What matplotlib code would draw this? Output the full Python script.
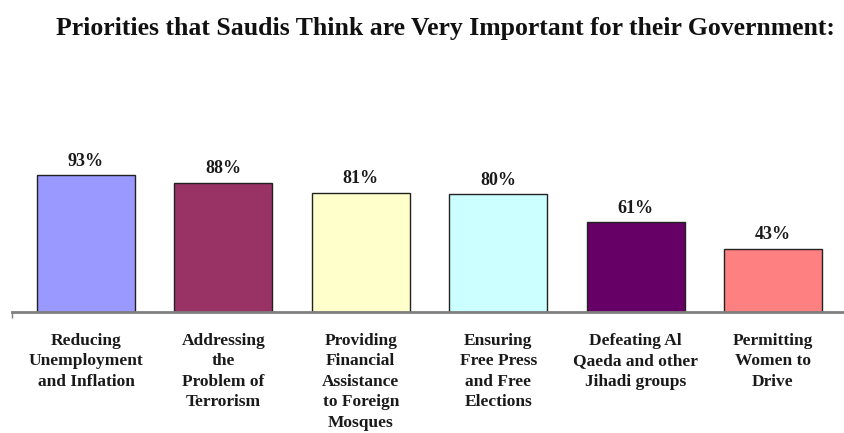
import matplotlib.pyplot as plt

categories = [
    "Reducing\nUnemployment\nand Inflation",
    "Addressing\nthe\nProblem of\nTerrorism",
    "Providing\nFinancial\nAssistance\nto Foreign\nMosques",
    "Ensuring\nFree Press\nand Free\nElections",
    "Defeating Al\nQaeda and other\nJihadi groups",
    "Permitting\nWomen to\nDrive",
]
values = [93, 88, 81, 80, 61, 43]
colors = ["#9999FF", "#993366", "#FFFFCC", "#CCFFFF", "#660066", "#FF8080"]

plt.rcParams['font.family'] = ['Liberation Serif', 'DejaVu Serif']

fig = plt.figure(figsize=(8.44, 4.33), dpi=100)
ax = fig.add_axes([12 / 844, (433 - 312) / 433, 832 / 844, 147 / 433])

x = range(len(values))
ax.bar(x, values, width=0.713, color=colors, edgecolor="#222222", linewidth=1.0, zorder=2)

for i, v in enumerate(values):
    ax.annotate(f"{v}%", (i, v), xytext=(0, 4), textcoords="offset points",
                ha="center", va="bottom", fontsize=13, fontweight="bold",
                color="#1a1a1a", annotation_clip=False)

for i, lab in enumerate(categories):
    ax.text(i, -14, lab, ha="center", va="top", fontsize=12.5, fontweight="bold",
            color="#1a1a1a", linespacing=1.38, transform=ax.transData, clip_on=False)

ax.set_xlim(-0.5386, 5.517)
ax.set_ylim(0, 100)
for s in ["top", "right", "left"]:
    ax.spines[s].set_visible(False)
ax.spines["bottom"].set_color("#808080")
ax.spines["bottom"].set_linewidth(2)
ax.set_yticks([])
ax.set_xticks([-0.5386])
ax.set_xticklabels([""])
ax.tick_params(axis="x", length=4, width=1, color="#808080")

fig.text(0.5 * (55 + 835) / 844, 1 - 29 / 433, "Priorities that Saudis Think are Very Important for their Government:",
         ha="center", va="center", fontsize=18.5, fontweight="bold", color="#111111")

fig.savefig("out.png", dpi=100)
